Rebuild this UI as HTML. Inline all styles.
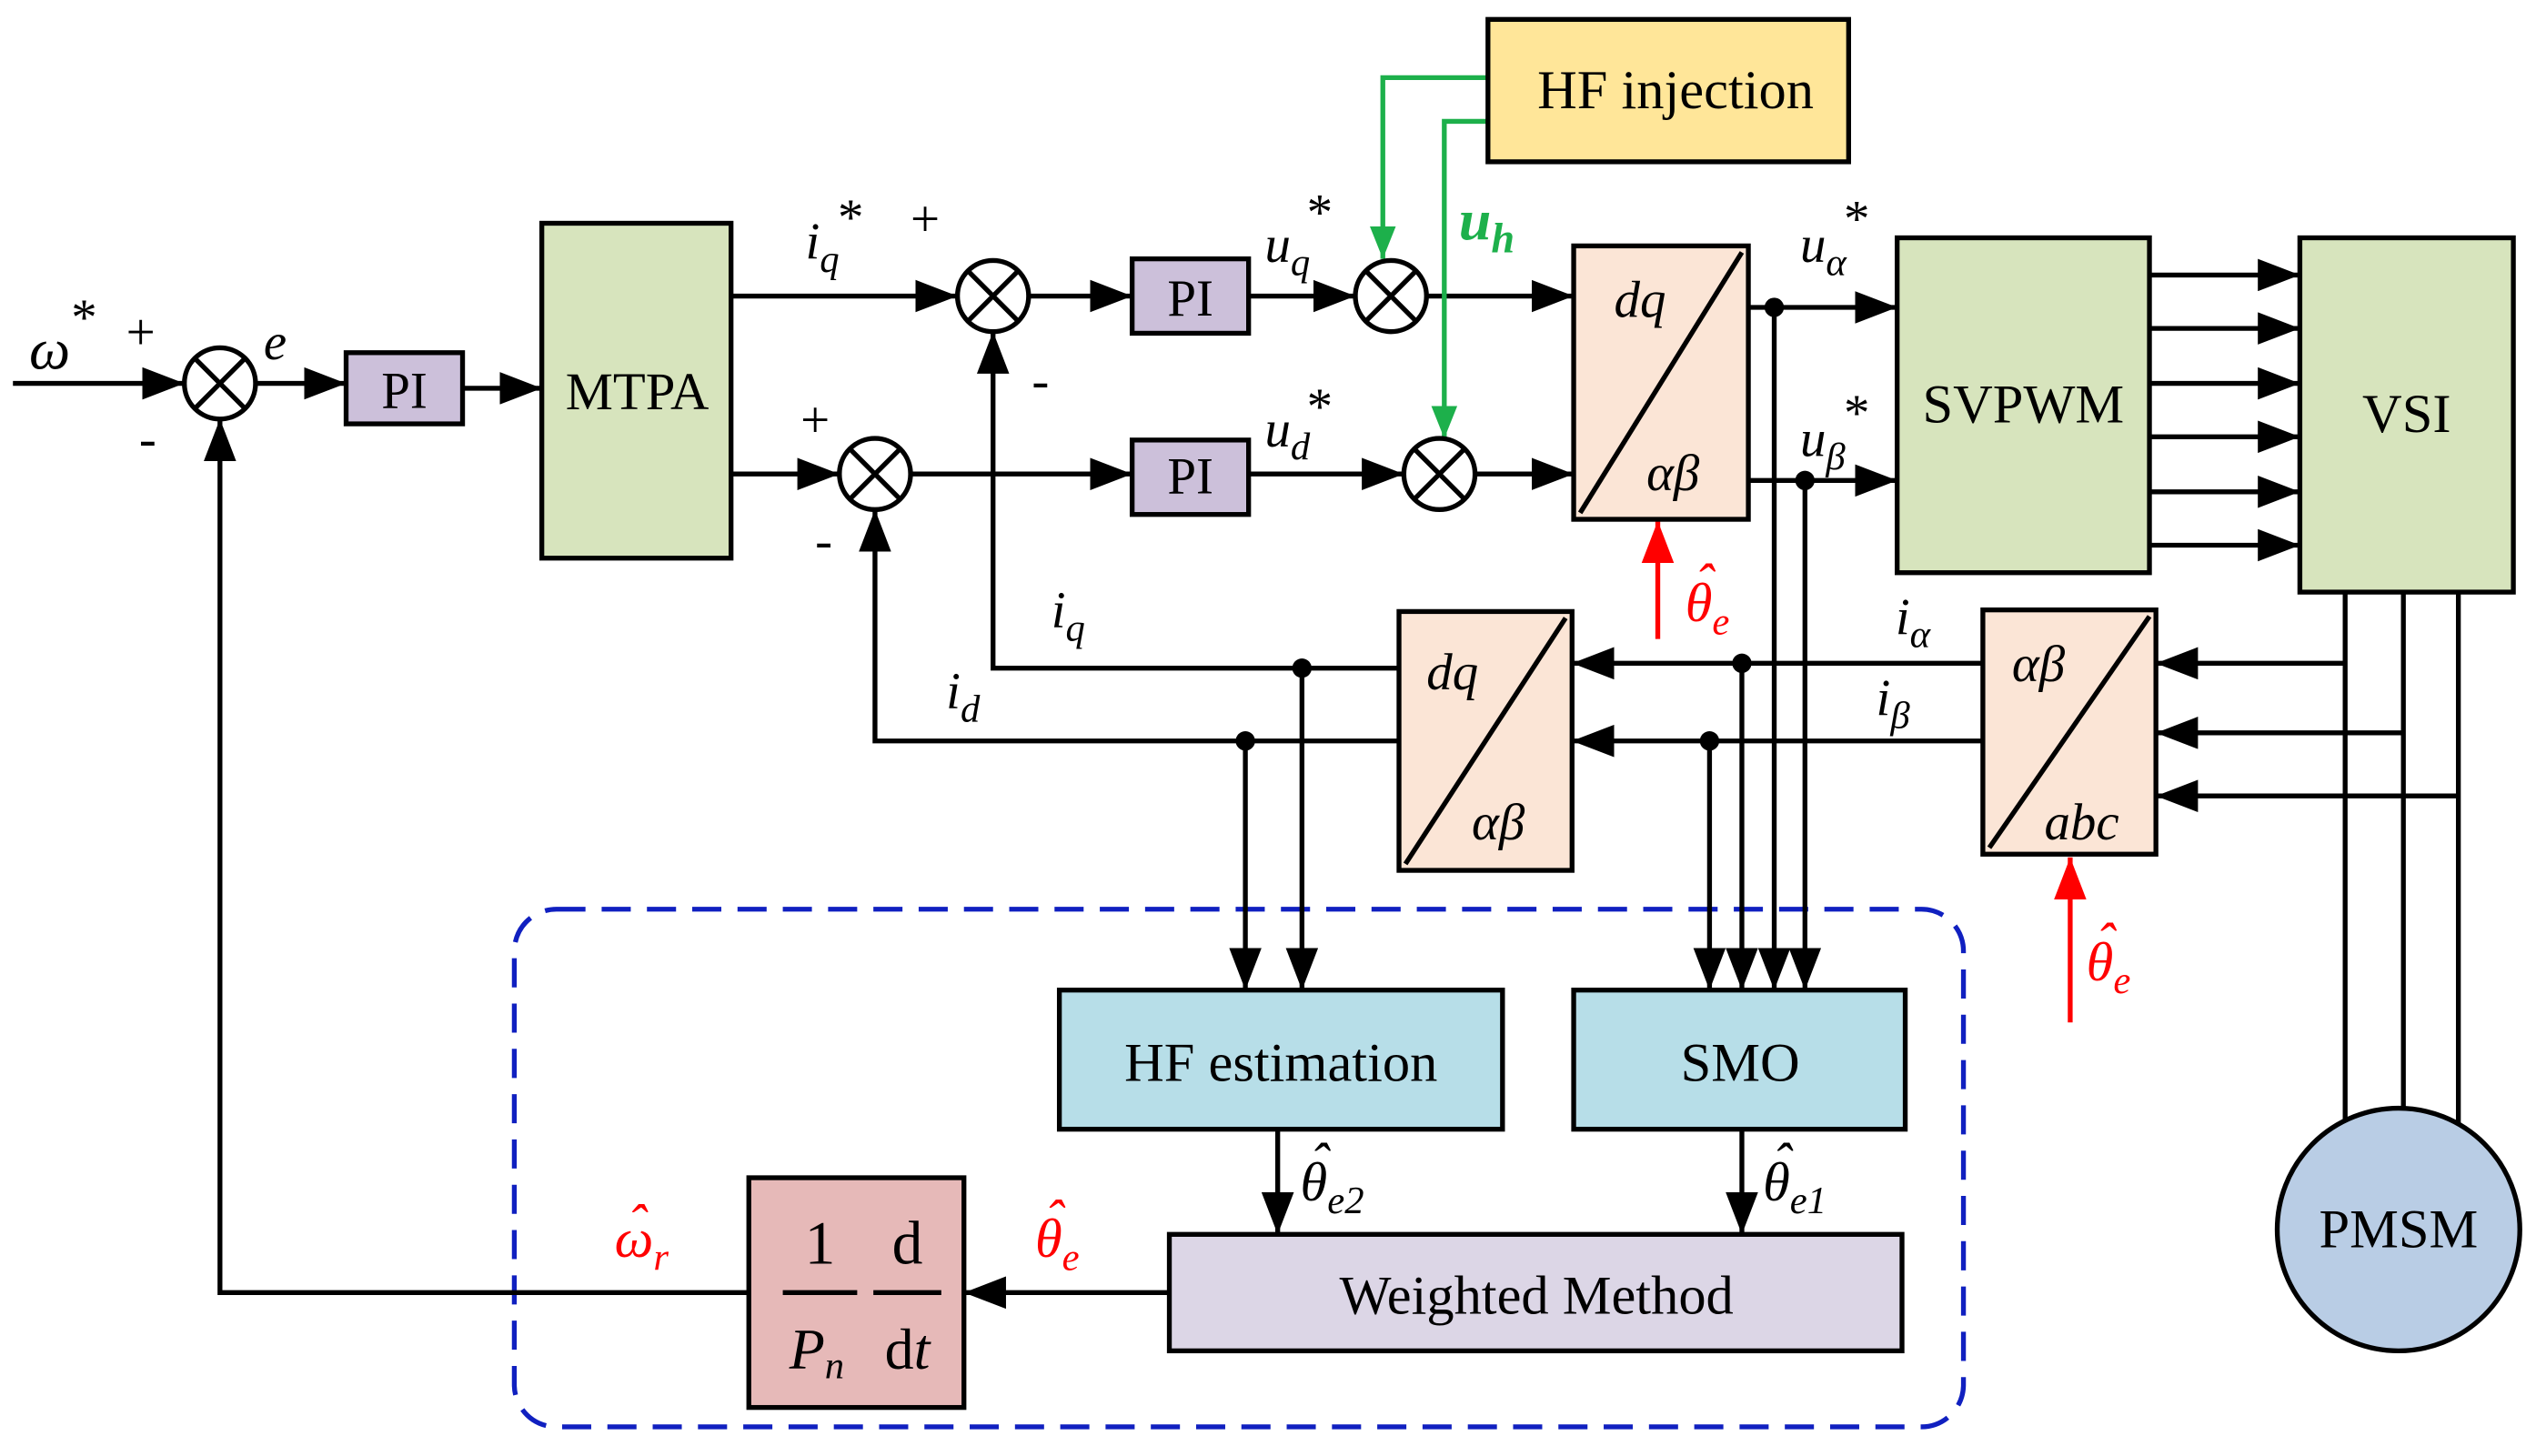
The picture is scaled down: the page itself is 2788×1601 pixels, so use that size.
<!DOCTYPE html>
<html><head><meta charset="utf-8"><style>
html,body{margin:0;padding:0;background:#fff}
svg{display:block}
text{font-family:"Liberation Serif",serif;fill:#000}
.i{font-style:italic}
</style></head><body>
<svg width="2788" height="1601" viewBox="0 0 1568 900" preserveAspectRatio="none" xmlns="http://www.w3.org/2000/svg">
<defs>
<marker id="a" markerUnits="userSpaceOnUse" markerWidth="26" markerHeight="20" refX="26" refY="10" orient="auto"><path d="M0,0 L26,10 L0,20 z" fill="#000"/></marker>
<marker id="g" markerUnits="userSpaceOnUse" markerWidth="20" markerHeight="16" refX="20" refY="8" orient="auto"><path d="M0,0 L20,8 L0,16 z" fill="#1db04b"/></marker>
<marker id="r" markerUnits="userSpaceOnUse" markerWidth="26" markerHeight="20" refX="26" refY="10" orient="auto"><path d="M0,0 L26,10 L0,20 z" fill="#ff0000"/></marker>
</defs>
<g stroke="#000" stroke-width="3" fill="none">
<rect x="318" y="562" width="896" height="320" rx="26" stroke="#1020c0" stroke-dasharray="18,10"/>
<line x1="8" y1="237" x2="114" y2="237" marker-end="url(#a)"/>
<line x1="158" y1="237" x2="214" y2="237" marker-end="url(#a)"/>
<line x1="286" y1="240" x2="335" y2="240" marker-end="url(#a)"/>
<line x1="452" y1="183" x2="592" y2="183" marker-end="url(#a)"/>
<line x1="452" y1="293" x2="519" y2="293" marker-end="url(#a)"/>
<line x1="636" y1="183" x2="700" y2="183" marker-end="url(#a)"/>
<line x1="563" y1="293" x2="700" y2="293" marker-end="url(#a)"/>
<line x1="772" y1="183" x2="838" y2="183" marker-end="url(#a)"/>
<line x1="772" y1="293" x2="868" y2="293" marker-end="url(#a)"/>
<line x1="882" y1="183" x2="973" y2="183" marker-end="url(#a)"/>
<line x1="912" y1="293" x2="973" y2="293" marker-end="url(#a)"/>
<line x1="1081" y1="190" x2="1173" y2="190" marker-end="url(#a)"/>
<line x1="1081" y1="297" x2="1173" y2="297" marker-end="url(#a)"/>
<line x1="1329" y1="170" x2="1422" y2="170" marker-end="url(#a)"/>
<line x1="1329" y1="203" x2="1422" y2="203" marker-end="url(#a)"/>
<line x1="1329" y1="237" x2="1422" y2="237" marker-end="url(#a)"/>
<line x1="1329" y1="270" x2="1422" y2="270" marker-end="url(#a)"/>
<line x1="1329" y1="304" x2="1422" y2="304" marker-end="url(#a)"/>
<line x1="1329" y1="337" x2="1422" y2="337" marker-end="url(#a)"/>
<line x1="1450" y1="366" x2="1450" y2="698"/>
<line x1="1486" y1="366" x2="1486" y2="686"/>
<line x1="1520" y1="366" x2="1520" y2="694"/>
<line x1="1450" y1="410" x2="1333" y2="410" marker-end="url(#a)"/>
<line x1="1486" y1="453" x2="1333" y2="453" marker-end="url(#a)"/>
<line x1="1520" y1="492" x2="1333" y2="492" marker-end="url(#a)"/>
<line x1="1226" y1="410" x2="972" y2="410" marker-end="url(#a)"/>
<line x1="1226" y1="458" x2="972" y2="458" marker-end="url(#a)"/>
<polyline points="865,413 614,413 614,205" marker-end="url(#a)"/>
<polyline points="865,458 541,458 541,315" marker-end="url(#a)"/>
<line x1="770" y1="458" x2="770" y2="612" marker-end="url(#a)"/>
<line x1="805" y1="413" x2="805" y2="612" marker-end="url(#a)"/>
<line x1="1057" y1="458" x2="1057" y2="612" marker-end="url(#a)"/>
<line x1="1077" y1="410" x2="1077" y2="612" marker-end="url(#a)"/>
<line x1="1097" y1="190" x2="1097" y2="612" marker-end="url(#a)"/>
<line x1="1116" y1="297" x2="1116" y2="612" marker-end="url(#a)"/>
<line x1="790" y1="698" x2="790" y2="763" marker-end="url(#a)"/>
<line x1="1077" y1="698" x2="1077" y2="763" marker-end="url(#a)"/>
<line x1="723" y1="799" x2="596" y2="799" marker-end="url(#a)"/>
<polyline points="463,799 136,799 136,259" marker-end="url(#a)"/>
<polyline points="920,48 855,48 855,160" stroke="#1db04b" marker-end="url(#g)"/>
<polyline points="920,75 893,75 893,271" stroke="#1db04b" marker-end="url(#g)"/>
<line x1="1025" y1="395" x2="1025" y2="322" stroke="#ff0000" marker-end="url(#r)"/>
<line x1="1280" y1="632" x2="1280" y2="530" stroke="#ff0000" marker-end="url(#r)"/>
</g>
<g fill="#000">
<circle cx="1097" cy="190" r="6"/><circle cx="1116" cy="297" r="6"/>
<circle cx="1077" cy="410" r="6"/><circle cx="1057" cy="458" r="6"/>
<circle cx="805" cy="413" r="6"/><circle cx="770" cy="458" r="6"/>
</g>
<g stroke="#000" stroke-width="3" fill="#fff">
<g><circle cx="136" cy="237" r="22"/><path d="M120.4,221.4 L151.6,252.6 M151.6,221.4 L120.4,252.6"/></g>
<g><circle cx="614" cy="183" r="22"/><path d="M598.4,167.4 L629.6,198.6 M629.6,167.4 L598.4,198.6"/></g>
<g><circle cx="541" cy="293" r="22"/><path d="M525.4,277.4 L556.6,308.6 M556.6,277.4 L525.4,308.6"/></g>
<g><circle cx="860" cy="183" r="22"/><path d="M844.4,167.4 L875.6,198.6 M875.6,167.4 L844.4,198.6"/></g>
<g><circle cx="890" cy="293" r="22"/><path d="M874.4,277.4 L905.6,308.6 M905.6,277.4 L874.4,308.6"/></g>
</g>
<g stroke="#000" stroke-width="3">
<rect x="214" y="218" width="72" height="44" fill="#ccc0da"/>
<rect x="335" y="138" width="117" height="207" fill="#d7e4bd"/>
<rect x="700" y="160" width="72" height="46" fill="#ccc0da"/>
<rect x="700" y="272" width="72" height="46" fill="#ccc0da"/>
<rect x="920" y="12" width="223" height="88" fill="#ffe699"/>
<rect x="973" y="152" width="108" height="169" fill="#fbe5d6"/><line x1="977" y1="317" x2="1077" y2="156"/>
<rect x="1173" y="147" width="156" height="207" fill="#d7e4bd"/>
<rect x="1422" y="147" width="132" height="219" fill="#d7e4bd"/>
<rect x="1226" y="377" width="107" height="151" fill="#fbe5d6"/><line x1="1230" y1="524" x2="1329" y2="381"/>
<rect x="865" y="378" width="107" height="160" fill="#fbe5d6"/><line x1="869" y1="534" x2="968" y2="382"/>
<rect x="655" y="612" width="274" height="86" fill="#b7dee8"/>
<rect x="973" y="612" width="205" height="86" fill="#b7dee8"/>
<rect x="723" y="763" width="453" height="72" fill="#dcd6e6"/>
<rect x="463" y="728" width="133" height="142" fill="#e6b9b8"/>
<circle cx="1483" cy="760" r="75" fill="#b9cde5"/>
<line x1="484" y1="799" x2="530" y2="799"/><line x1="540" y1="799" x2="582" y2="799"/>
</g>
<g font-size="32">
<text x="250" y="252" text-anchor="middle">PI</text>
<text x="394" y="253" text-anchor="middle" font-size="33">MTPA</text>
<text x="736" y="195" text-anchor="middle">PI</text>
<text x="736" y="305" text-anchor="middle">PI</text>
<text x="1036" y="67" text-anchor="middle" font-size="34">HF injection</text>
<text x="1251" y="261" text-anchor="middle" font-size="34">SVPWM</text>
<text x="1488" y="267" text-anchor="middle" font-size="34">VSI</text>
<text x="1483" y="771" text-anchor="middle" font-size="34">PMSM</text>
<text x="792" y="668" text-anchor="middle" font-size="34">HF estimation</text>
<text x="1076" y="668" text-anchor="middle" font-size="34">SMO</text>
<text x="950" y="812" text-anchor="middle" font-size="34">Weighted Method</text>
<text x="507" y="781" text-anchor="middle" font-size="38">1</text>
<text x="561" y="781" text-anchor="middle" font-size="38">d</text>
<text x="505" y="846" text-anchor="middle" font-size="36" class="i">P<tspan font-size="24" dy="6">n</tspan></text>
<text x="561" y="846" text-anchor="middle" font-size="36">d<tspan class="i">t</tspan></text>
<text x="998" y="196" class="i">dq</text>
<text x="1018" y="303" class="i">αβ</text>
<text x="882" y="426" class="i">dq</text>
<text x="910" y="519" class="i">αβ</text>
<text x="1244" y="421" class="i">αβ</text>
<text x="1264" y="519" class="i">abc</text>
<text x="18" y="228" class="i" font-size="36">ω</text><text x="44" y="207" font-size="32">*</text>
<text x="78" y="216">+</text><text x="86" y="282">-</text>
<text x="163" y="222" class="i">e</text>
<text x="498" y="160" class="i">i<tspan font-size="24" dy="8">q</tspan></text><text x="518" y="145">*</text>
<text x="563" y="146">+</text><text x="638" y="246">-</text>
<text x="495" y="270">+</text><text x="504" y="345">-</text>
<text x="782" y="162" class="i">u<tspan font-size="24" dy="8">q</tspan></text><text x="808" y="142">*</text>
<text x="782" y="276" class="i">u<tspan font-size="24" dy="8">d</tspan></text><text x="808" y="262">*</text>
<text x="902" y="148" class="i" font-weight="bold" font-size="36" style="fill:#1db04b">u<tspan font-size="26" dy="8" style="fill:#1db04b">h</tspan></text>
<text x="1113" y="162" class="i">u<tspan font-size="24" dy="8">α</tspan></text><text x="1140" y="146">*</text>
<text x="1113" y="282" class="i">u<tspan font-size="24" dy="8">β</tspan></text><text x="1140" y="266">*</text>
<text x="650" y="388" class="i">i<tspan font-size="24" dy="8">q</tspan></text>
<text x="585" y="438" class="i">i<tspan font-size="24" dy="8">d</tspan></text>
<text x="1172" y="392" class="i">i<tspan font-size="24" dy="8">α</tspan></text>
<text x="1160" y="442" class="i">i<tspan font-size="24" dy="8">β</tspan></text>
<g font-size="34" class="i" style="fill:#ff0000">
<text x="1042" y="384" style="fill:#ff0000">θ<tspan font-size="24" dy="8" style="fill:#ff0000">e</tspan></text><text x="1048" y="372" style="fill:#ff0000">ˆ</text>
<text x="1290" y="606" style="fill:#ff0000">θ<tspan font-size="24" dy="8" style="fill:#ff0000">e</tspan></text><text x="1296" y="594" style="fill:#ff0000">ˆ</text>
<text x="640" y="777" style="fill:#ff0000">θ<tspan font-size="24" dy="8" style="fill:#ff0000">e</tspan></text><text x="646" y="765" style="fill:#ff0000">ˆ</text>
<text x="380" y="777" style="fill:#ff0000">ω<tspan font-size="24" dy="8" style="fill:#ff0000">r</tspan></text><text x="388" y="768" style="fill:#ff0000">ˆ</text>
</g>
<g font-size="34" class="i">
<text x="804" y="742">θ<tspan font-size="24" dy="8">e2</tspan></text><text x="810" y="730">ˆ</text>
<text x="1090" y="742">θ<tspan font-size="24" dy="8">e1</tspan></text><text x="1096" y="730">ˆ</text>
</g>
</g>
</svg>
</body></html>
